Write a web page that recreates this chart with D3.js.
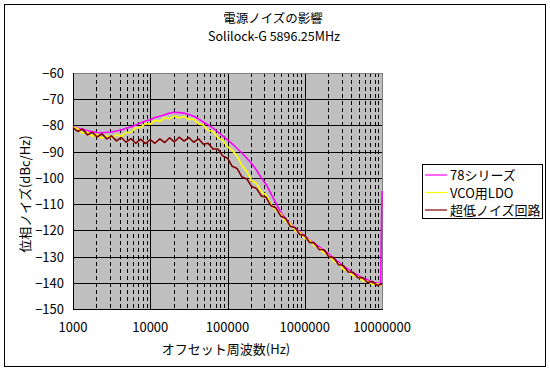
<!DOCTYPE html>
<html>
<head>
<meta charset="utf-8">
<script src="https://cdn.jsdelivr.net/npm/d3@7"></script>
<style>
  body { margin: 0; background: #fff; }
  text { font-family: "Noto Sans CJK JP", "Noto Sans", sans-serif; fill: #000; }
</style>
</head>
<body>
<svg id="chart" width="550" height="370"></svg>
<script>
const width = 550;
const height = 370;

const title = "電源ノイズの影響";
const subtitle = "Solilock-G 5896.25MHz";
const xTitle = "オフセット周波数(Hz)";
const yTitle = "位相ノイズ(dBc/Hz)";

const xTicks = [1000, 10000, 100000, 1000000, 10000000];
const yTicks = [-60, -70, -80, -90, -100, -110, -120, -130, -140, -150];

const seriesNames = ["78シリーズ", "VCO用LDO", "超低ノイズ回路"];
const seriesColors = ["#ff00ff", "#ffff00", "#800000"];

const freq = [
  1000, 1150, 1330, 1540, 1780, 2050, 2370, 2740, 3160, 3650, 4220, 4870, 5620, 6490, 7500, 8660,
  10000, 11500, 13300, 15400, 17800, 20500, 23700, 27400, 31600, 36500, 42200, 48700, 56200, 64900, 75000, 86600,
  100000, 115000, 133000, 154000, 178000, 205000, 237000, 274000, 316000, 365000, 422000, 487000, 562000, 649000, 750000, 866000,
  1000000, 1150000, 1330000, 1540000, 1780000, 2050000, 2370000, 2740000, 3160000, 3650000, 4220000, 4870000, 5620000, 6490000, 7500000, 8660000,
  9600000, 10000000
];

// 78シリーズ
const s78 = [
  -80.4, -81.0, -81.5, -82.0, -82.4, -82.7, -82.8, -82.6, -82.5, -82.1, -81.7, -81.1, -80.6, -79.8, -79.1, -78.3,
  -77.8, -77.0, -76.5, -75.9, -75.3, -75.0, -75.1, -75.3, -75.8, -76.5, -77.5, -78.7, -79.8, -81.0, -82.5, -84.0,
  -85.5, -87.0, -88.8, -90.5, -92.5, -94.5, -97.0, -100.0, -102.5, -106.0, -109.5, -113.0, -115.6, -117.3, -119.2, -120.6,
  -122.3, -123.5, -125.1, -126.2, -127.8, -129.0, -130.8, -132.0, -133.8, -134.8, -136.3, -137.0, -138.3, -138.8, -139.8, -140.1,
  -140.6, -105
];

// VCO用LDO
const sLdo = [
  -80.6, -81.2, -83.0, -82.6, -84.1, -83.5, -84.9, -83.9, -84.7, -83.5, -84.2, -82.6, -82.7, -80.9, -80.8, -79.2,
  -79.5, -78.1, -78.5, -77.1, -77.5, -76.4, -77.2, -76.6, -77.7, -77.6, -79.4, -79.8, -81.9, -82.2, -84.7, -85.6,
  -88.1, -89.5, -91.6, -95.3, -97.6, -101.0, -102.1, -105.2, -106.6, -110.1, -112.3, -113.6, -116.5, -117.4, -120.1, -120.7,
  -123.1, -123.6, -125.9, -126.8, -128.7, -129.6, -131.8, -132.6, -134.9, -135.5, -137.3, -137.6, -139.2, -139.4, -140.6, -140.4,
  -140.8, -141.0
];

// 超低ノイズ回路
const sLow = [
  -80.8, -82.3, -81.4, -83.6, -82.6, -84.4, -83.2, -85.1, -84.0, -85.9, -84.6, -86.4, -85.0, -86.8, -85.2, -86.9,
  -85.4, -86.8, -85.1, -86.5, -84.7, -86.3, -84.5, -86.0, -84.6, -86.4, -85.1, -87.2, -86.8, -89.0, -89.0, -91.6,
  -92.5, -95.6, -96.4, -99.7, -100.4, -103.3, -104.0, -106.9, -107.4, -110.6, -111.4, -114.5, -115.4, -118.4, -119.0, -121.6,
  -122.0, -124.6, -124.8, -127.3, -127.4, -130.1, -130.4, -133.1, -133.4, -135.9, -136.0, -138.1, -138.0, -139.9, -139.5, -141.0,
  -140.6, -140.5
];

const seriesValues = [s78, sLdo, sLow];

const plot = { left: 73, top: 73, right: 382, bottom: 309 };

const svg = d3.select("#chart");

// chart border
svg.append("rect")
  .attr("x", 4.5).attr("y", 4.5)
  .attr("width", 541).attr("height", 362)
  .attr("fill", "#fff")
  .attr("stroke", "#000")
  .attr("stroke-width", 1);

const x = d3.scaleLog()
  .domain([1000, 10000000])
  .range([plot.left, plot.right]);

const y = d3.scaleLinear()
  .domain([-150, -60])
  .range([plot.bottom, plot.top]);

// plot background
svg.append("rect")
  .attr("x", plot.left).attr("y", plot.top)
  .attr("width", plot.right - plot.left)
  .attr("height", plot.bottom - plot.top)
  .attr("fill", "#c0c0c0");

// minor vertical gridlines (dashed)
const minorTicks = x.ticks().filter(d => !xTicks.includes(d));
svg.append("g")
  .selectAll("line")
  .data(minorTicks)
  .join("line")
  .attr("x1", d => Math.round(x(d)) + 0.5)
  .attr("x2", d => Math.round(x(d)) + 0.5)
  .attr("y1", plot.top)
  .attr("y2", plot.bottom)
  .attr("stroke", "#000")
  .attr("stroke-width", 1)
  .attr("stroke-dasharray", "4,3");

// major vertical gridlines
svg.append("g")
  .selectAll("line")
  .data(xTicks.slice(1, -1))
  .join("line")
  .attr("x1", d => Math.round(x(d)) + 0.5)
  .attr("x2", d => Math.round(x(d)) + 0.5)
  .attr("y1", plot.top)
  .attr("y2", plot.bottom)
  .attr("stroke", "#000")
  .attr("stroke-width", 1);

// horizontal gridlines
svg.append("g")
  .selectAll("line")
  .data(yTicks.slice(1, -1))
  .join("line")
  .attr("x1", plot.left)
  .attr("x2", plot.right)
  .attr("y1", d => Math.round(y(d)) + 0.5)
  .attr("y2", d => Math.round(y(d)) + 0.5)
  .attr("stroke", "#000")
  .attr("stroke-width", 1);

// plot frame
svg.append("rect")
  .attr("x", plot.left + 0.5).attr("y", plot.top + 0.5)
  .attr("width", plot.right - plot.left)
  .attr("height", plot.bottom - plot.top)
  .attr("fill", "none")
  .attr("stroke", "#808080");

// axis lines
svg.append("line")
  .attr("x1", plot.left + 0.5).attr("x2", plot.left + 0.5)
  .attr("y1", plot.top).attr("y2", plot.bottom + 1)
  .attr("stroke", "#000");
svg.append("line")
  .attr("x1", plot.left).attr("x2", plot.right + 1)
  .attr("y1", plot.bottom + 0.5).attr("y2", plot.bottom + 0.5)
  .attr("stroke", "#000");

// series
const line = d3.line()
  .x((d, i) => x(freq[i]))
  .y(d => y(d));

seriesValues.forEach((vals, k) => {
  svg.append("path")
    .datum(vals)
    .attr("d", line)
    .attr("fill", "none")
    .attr("stroke", seriesColors[k])
    .attr("stroke-width", 1.6)
    .attr("stroke-linejoin", "round");
});

// tick labels
svg.append("g")
  .selectAll("text")
  .data(yTicks)
  .join("text")
  .attr("x", 64)
  .attr("y", d => y(d) + 5)
  .attr("text-anchor", "end")
  .attr("font-size", 13)
  .text(d => String(d).replace("-", "\u2212"));

svg.append("g")
  .selectAll("text")
  .data(xTicks)
  .join("text")
  .attr("x", d => x(d))
  .attr("y", 332)
  .attr("text-anchor", "middle")
  .attr("font-size", 13)
  .text(d => d);

// titles
svg.append("text")
  .attr("x", 273).attr("y", 23)
  .attr("text-anchor", "middle")
  .attr("font-size", 12.5)
  .text(title);

svg.append("text")
  .attr("x", 274).attr("y", 41)
  .attr("text-anchor", "middle")
  .attr("font-size", 12.5)
  .text(subtitle);

svg.append("text")
  .attr("x", 226).attr("y", 354)
  .attr("text-anchor", "middle")
  .attr("font-size", 13)
  .text(xTitle);

svg.append("text")
  .attr("transform", "translate(30,194) rotate(-90)")
  .attr("text-anchor", "middle")
  .attr("font-size", 13)
  .text(yTitle);

// legend
const legend = svg.append("g");
legend.append("rect")
  .attr("x", 422.5).attr("y", 164.5)
  .attr("width", 120).attr("height", 54)
  .attr("fill", "#fff")
  .attr("stroke", "#000");

seriesNames.forEach((name, k) => {
  const ly = 175 + k * 17.5;
  legend.append("line")
    .attr("x1", 425).attr("x2", 447)
    .attr("y1", ly).attr("y2", ly)
    .attr("stroke", seriesColors[k])
    .attr("stroke-width", 1.2);
  legend.append("text")
    .attr("x", 450).attr("y", ly + 5)
    .attr("font-size", 13)
    .text(name);
});
</script>
</body>
</html>
